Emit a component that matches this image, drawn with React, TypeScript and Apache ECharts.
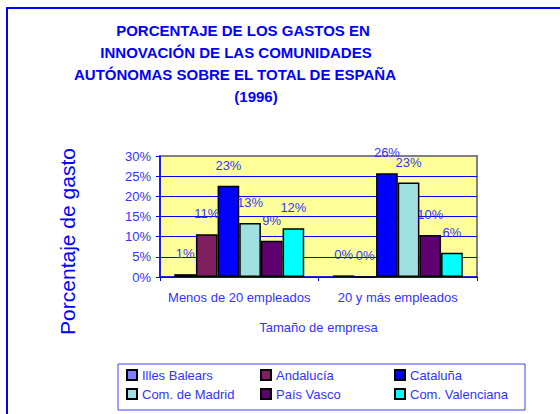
import React, { useEffect, useRef } from "react";
import * as echarts from "echarts";

const categories = ["Menos de 20 empleados", "20 y más empleados"];
const regions = [
  "Illes Balears",
  "Andalucía",
  "Cataluña",
  "Com. de Madrid",
  "País Vasco",
  "Com. Valenciana",
];
const menos20 = [0.7, 10.6, 22.6, 13.4, 9.0, 12.1];
const mas20 = [0.4, 0.0, 25.7, 23.4, 10.4, 6.0];
const colors = ["#8080ff", "#7f1f5f", "#0000ff", "#a0e0e0", "#600070", "#00ffff"];
const titleLines = [
  "PORCENTAJE DE LOS GASTOS EN",
  "INNOVACIÓN DE LAS COMUNIDADES",
  "AUTÓNOMAS SOBRE EL TOTAL DE ESPAÑA",
  "(1996)",
];
const titleCenters = [243, 236, 235, 256];
const yTicks = [0, 5, 10, 15, 20, 25, 30];

const FONT = "'Liberation Sans', Arial, sans-serif";
const TXT = "#3333ff";

export default function App() {
  const ref = useRef<HTMLDivElement>(null);
  useEffect(() => {
    if (!ref.current) return;
    const chart = echarts.init(ref.current, undefined, { renderer: "svg" });
    const series = regions.map((r, i) => ({
      name: r,
      type: "bar",
      data: [menos20[i], mas20[i]],
      barGap: "0%",
      barCategoryGap: "18%",
      itemStyle: { color: colors[i], borderColor: "#000000", borderWidth: 1.5 },
      label: {
        show: true,
        position: "top",
        distance: 14,
        formatter: (p: any) => Math.round(p.value) + "%",
        color: TXT,
        fontSize: 13,
        fontFamily: FONT,
      },
    }));
    chart.setOption({
      animation: false,
      textStyle: { fontFamily: FONT },
      title: titleLines.map((t, i) => ({
        text: t,
        left: titleCenters[i],
        textAlign: "center",
        top: 23 + i * 22,
        padding: 0,
        textStyle: { color: "#0000ff", fontSize: 15, fontWeight: "bold", fontFamily: FONT },
      })),
      graphic: [
        {
          type: "rect",
          shape: { x: 7, y: 8, width: 700, height: 700 },
          style: { fill: "none", stroke: "#0000ff", lineWidth: 2 },
          silent: true,
        },
      ],
      legend: {
        left: 118,
        top: 364,
        width: 401,
        padding: [4, 2, 9, 8],
        itemGap: 5,
        itemWidth: 10,
        itemHeight: 10,
        icon: "rect",
        borderColor: "#4040ff",
        borderWidth: 1,
        textStyle: { color: TXT, fontSize: 13, fontFamily: FONT, width: 113, lineHeight: 14 },
        data: regions,
      },
      grid: {
        left: 160,
        right: 83,
        top: 156,
        bottom: 137,
        show: true,
        backgroundColor: "#ffff99",
        borderColor: "#808080",
        borderWidth: 2,
      },
      xAxis: {
        type: "category",
        data: categories,
        name: "Tamaño de empresa",
        nameLocation: "middle",
        nameGap: 44,
        nameTextStyle: { color: TXT, fontSize: 13, fontFamily: FONT },
        axisLine: { lineStyle: { color: "#0000ff", width: 1.5 } },
        axisTick: { show: true, length: 4, lineStyle: { color: "#0000ff" } },
        axisLabel: { color: TXT, fontSize: 13, margin: 14, interval: 0, fontFamily: FONT },
      },
      yAxis: {
        type: "value",
        min: yTicks[0],
        max: yTicks[yTicks.length - 1],
        interval: 5,
        name: "Porcentaje de gasto",
        nameLocation: "middle",
        nameGap: 82,
        nameTextStyle: { color: "#0000ff", fontSize: 21, fontFamily: FONT, padding: [0, 50, 0, 0] },
        axisLine: { show: true, lineStyle: { color: "#0000ff", width: 1.5 } },
        axisTick: { show: true, length: 4, lineStyle: { color: "#0000ff" } },
        axisLabel: { color: TXT, fontSize: 13, margin: 9, formatter: "{value}%", fontFamily: FONT },
        splitLine: {
          show: true,
          lineStyle: {
            color: ["#0000ff", "#0000ff", "#0000ff", "#0000ff", "#0000ff", "#0000ff", "#808080"],
            width: 1,
          },
        },
      },
      series,
    });
    return () => chart.dispose();
  }, []);
  return <div ref={ref} style={{ width: 560, height: 414, position: "absolute", left: 0, top: 0 }} />;
}
